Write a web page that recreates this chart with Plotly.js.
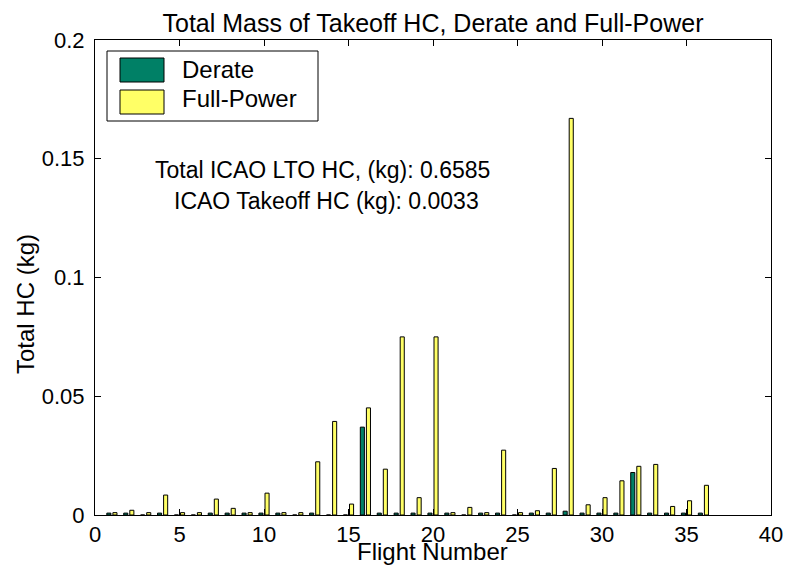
<!DOCTYPE html>
<html>
<head>
<meta charset="utf-8">
<script src="https://cdn.plot.ly/plotly-3.0.1.min.js"></script>
<style>html,body{margin:0;padding:0;background:#fff;}#chart{width:785px;height:571px;}</style>
</head>
<body>
<div id="chart"></div>
<script>
const flights = [1,2,3,4,5,6,7,8,9,10,11,12,13,14,15,16,17,18,19,20,21,22,23,24,25,26,27,28,29,30,31,32,33,34,35,36];
const derate = [0.0008,0.0008,0,0.0008,0,0,0.0008,0.0008,0.0008,0.0008,0.0008,0,0.0008,0,0,0.0370,0.0008,0.0008,0.0008,0.0008,0.0008,0,0.0008,0.0008,0,0.0008,0.0008,0.0016,0.0008,0.0008,0.0008,0.0179,0.0008,0.0008,0.0008,0.0008];
const fullPower = [0.0010,0.0020,0.0010,0.0084,0.0010,0.0010,0.0067,0.0028,0.0010,0.0092,0.0010,0.0010,0.0224,0.0394,0.0046,0.0451,0.0193,0.0750,0.0073,0.0750,0.0010,0.0032,0.0010,0.0273,0.0010,0.0018,0.0196,0.1670,0.0043,0.0073,0.0144,0.0205,0.0213,0.0036,0.0060,0.0125];
const seriesNames = ['Derate','Full-Power'];
const xTicks = [0,5,10,15,20,25,30,35,40];
const yTicks = [0,0.05,0.1,0.15,0.2];
const yTickText = ['0','0.05','0.1','0.15','0.2'];
const noteLines = ['Total ICAO LTO HC, (kg): 0.6585','ICAO Takeoff HC (kg): 0.0033'];
const titleText = 'Total Mass of Takeoff HC, Derate and Full-Power';
const xTitle = 'Flight Number', yTitle = 'Total HC (kg)';

const cDerate = '#008066', cFull = '#FFFF66';
const FONT = 'Liberation Sans, Arial, sans-serif';

const traces = [
  {type:'bar', x:flights, y:derate, name:seriesNames[0], marker:{color:cDerate, line:{color:'#000', width:1}}, showlegend:false},
  {type:'bar', x:flights, y:fullPower, name:seriesNames[1], marker:{color:cFull, line:{color:'#000', width:1}}, showlegend:false}
];

// plot area pixels: x 95-771, y 40-515
const px = v => (v-95)/676, py = v => (515-v)/475;
const shapes = [
  {type:'rect', xref:'paper', yref:'paper', x0:px(107), x1:px(318), y0:py(121), y1:py(51), line:{color:'#000', width:1}, fillcolor:'#fff'},
  {type:'rect', xref:'paper', yref:'paper', x0:px(120), x1:px(164), y0:py(82), y1:py(58), line:{color:'#000', width:1}, fillcolor:cDerate},
  {type:'rect', xref:'paper', yref:'paper', x0:px(120), x1:px(164), y0:py(114), y1:py(90), line:{color:'#000', width:1}, fillcolor:cFull}
];
const txt = (x, y, s, size, extra) => Object.assign({xref:'paper', yref:'paper', x:px(x), y:py(y), xanchor:'left', yanchor:'middle', text:s, showarrow:false, font:{family:FONT, size:size, color:'#000'}}, extra||{});
const annotations = [
  txt(180, 70, seriesNames[0], 24),
  txt(180, 99, seriesNames[1], 24),
  txt(153, 170, noteLines[0], 23),
  txt(172, 201, noteLines[1], 23),
  txt(25, 304, yTitle, 24, {xanchor:'center', textangle:-90}),
  txt(432, 551, xTitle, 24, {xanchor:'center'})
];

const layout = {
  width:785, height:571,
  margin:{l:95, r:14, t:40, b:56},
  paper_bgcolor:'#fff', plot_bgcolor:'#fff',
  font:{family:FONT, size:22, color:'#000'},
  title:{text:titleText, x:0.5, xref:'paper', y:1-23/571, yanchor:'middle', font:{family:FONT, size:25, color:'#000'}},
  barmode:'group', bargap:0.28, bargroupgap:0.33,
  xaxis:{range:[0,40], tickvals:xTicks, ticktext:xTicks.map(String), ticks:'inside', ticklen:6, tickcolor:'#000', showline:true, linecolor:'#000', linewidth:1, mirror:'ticks', showgrid:false, zeroline:false, tickfont:{family:FONT, size:22}},
  yaxis:{range:[0,0.2], tickvals:yTicks, ticktext:yTickText, ticks:'inside', ticklen:6, tickcolor:'#000', showline:true, linecolor:'#000', linewidth:1, mirror:'ticks', showgrid:false, zeroline:false, ticklabelstandoff:5, tickfont:{family:FONT, size:22}},
  shapes:shapes, annotations:annotations
};
Plotly.newPlot('chart', traces, layout, {displayModeBar:false, staticPlot:true});
</script>
</body>
</html>
